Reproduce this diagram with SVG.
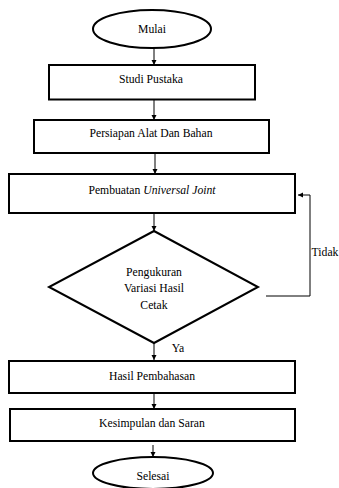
<svg xmlns="http://www.w3.org/2000/svg" width="339" height="488" viewBox="0 0 339 488">
<style>
.shape{fill:#fff;stroke:#000;stroke-width:2}
.conn{fill:none;stroke:#000;stroke-width:1}
text{font-family:"Liberation Serif","Times New Roman",serif;font-size:11.7px;fill:#000;text-anchor:middle}
</style>
<defs>
<marker id="ah" markerWidth="6" markerHeight="6" refX="5" refY="3" orient="auto" markerUnits="userSpaceOnUse">
<path d="M0,0.5 L5,3 L0,5.5 Z" fill="#000"/>
</marker>
</defs>
<rect width="339" height="488" fill="#fff"/>
<g id="connectors">
<line class="conn" x1="154" y1="48" x2="154" y2="65" marker-end="url(#ah)"/>
<line class="conn" x1="154" y1="100" x2="154" y2="120" marker-end="url(#ah)"/>
<line class="conn" x1="155" y1="153" x2="155" y2="174" marker-end="url(#ah)"/>
<line class="conn" x1="154" y1="213" x2="154" y2="231" marker-end="url(#ah)"/>
<polyline class="conn" points="266,296 310,296 310,195 298,195" marker-end="url(#ah)"/>
<line class="conn" x1="154" y1="343" x2="154" y2="360" marker-end="url(#ah)"/>
<line class="conn" x1="154" y1="393" x2="154" y2="409" marker-end="url(#ah)"/>
<line class="conn" x1="153" y1="445" x2="153" y2="457" marker-end="url(#ah)"/>
<text x="325" y="256">Tidak</text>
<text x="178" y="352">Ya</text>
</g>
<g id="mulai">
<ellipse class="shape" cx="152" cy="29" rx="59" ry="19"/>
<text x="152" y="33">Mulai</text>
</g>
<g id="studi">
<rect class="shape" x="49" y="65" width="206" height="34.5"/>
<text x="151" y="83">Studi Pustaka</text>
</g>
<g id="persiapan">
<rect class="shape" x="34" y="120" width="235" height="33"/>
<text x="151" y="137">Persiapan Alat Dan Bahan</text>
</g>
<g id="pembuatan">
<rect class="shape" x="9" y="174" width="286" height="39"/>
<text x="152" y="194">Pembuatan <tspan font-style="italic">Universal Joint</tspan></text>
</g>
<g id="pengukuran">
<polygon class="shape" points="154,231 258,287 154,343 49,287"/>
<text x="154" y="276">Pengukuran</text>
<text x="154" y="292">Variasi Hasil</text>
<text x="154" y="309">Cetak</text>
</g>
<g id="hasil">
<rect class="shape" x="9" y="361" width="286" height="32"/>
<text x="152" y="380">Hasil Pembahasan</text>
</g>
<g id="kesimpulan">
<rect class="shape" x="10" y="409" width="285" height="32"/>
<text x="152" y="427">Kesimpulan dan Saran</text>
</g>
<g id="selesai">
<ellipse class="shape" cx="153" cy="473" rx="60" ry="16"/>
<text x="153" y="480">Selesai</text>
</g>
</svg>
